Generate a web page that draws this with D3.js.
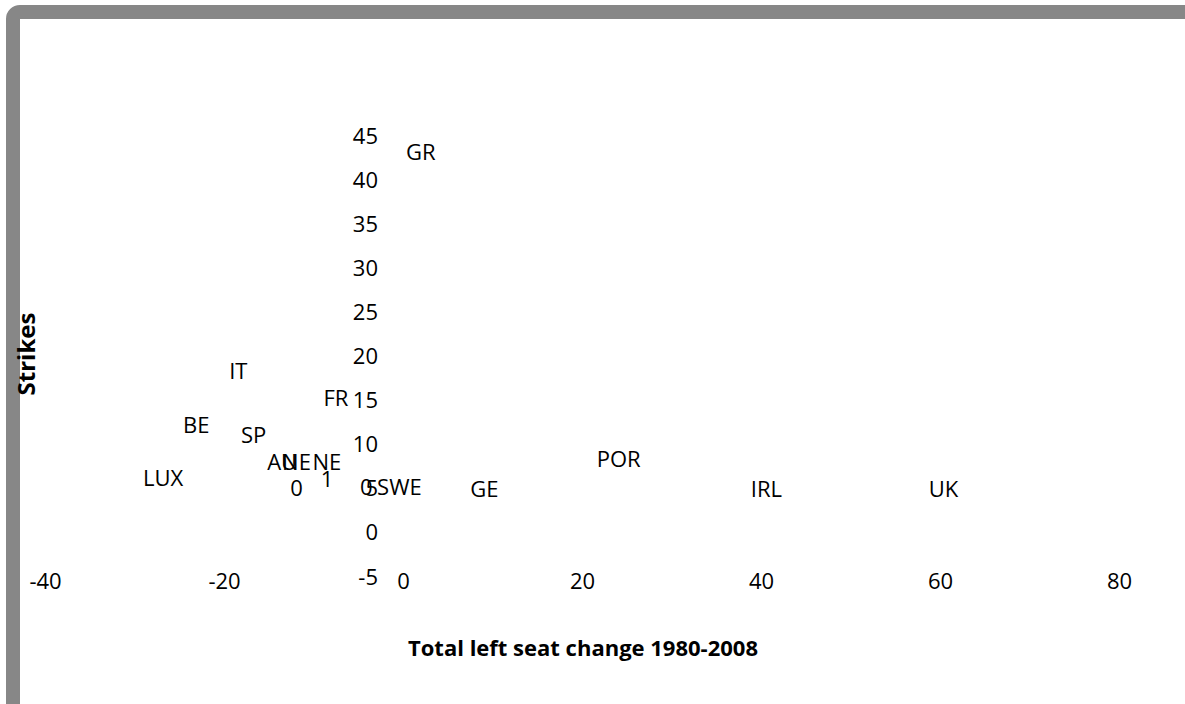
<!DOCTYPE html>
<meta charset="utf-8">
<head>
<style>
body { margin: 0; background: #fff; }
svg { display: block; font-family: "Open Sans", sans-serif; }
.tick text { font-family: "Open Sans", sans-serif; font-size: 22px; fill: #000; }
.point-label { font-size: 22px; fill: #000; text-anchor: middle; }
.axis-title { font-weight: bold; fill: #000; text-anchor: middle; }
</style>
<script src="https://d3js.org/d3.v7.min.js"></script>
</head>
<body>
<svg width="1185" height="704"></svg>
<script>

// country labels as shown on the chart (some are just numbers)
var labels = ["GR", "IT", "FR", "BE", "SP", "LUX", "AU", "NE", "NE", "0", "1", "0", "SWE", "GE", "POR", "IRL", "UK"];
// total left seat change 1980-2008
var seatChange = [2.0, -18.4, -7.5, -23.1, -16.7, -26.8, -13.5, -11.9, -8.5, -11.9, -8.5, -4.1, -0.4, 9.1, 24.1, 40.6, 60.4];
// strikes
var strikes = [43.1, 18.3, 15.3, 12.2, 11.1, 6.2, 8.0, 8.0, 8.0, 5.1, 6.1, 5.2, 5.2, 5.0, 8.3, 4.9, 4.9];

var xTicks = [-40, -20, 0, 20, 40, 60, 80];
var yTicks = [-5, 0, 5, 10, 15, 20, 25, 30, 35, 40, 45];

var svg = d3.select("svg"),
    width = +svg.attr("width"),
    height = +svg.attr("height");

var points = labels.map(function(d, i) {
  return { label: d, x: seatChange[i], y: strikes[i] };
});

// chart border, only the top and left edges fall inside the picture
svg.append("rect")
    .attr("x", 13)
    .attr("y", 12)
    .attr("width", width + 100)
    .attr("height", height + 100)
    .attr("rx", 7)
    .attr("fill", "none")
    .attr("stroke", "#878787")
    .attr("stroke-width", 14);

var x = d3.scaleLinear()
    .domain([-40, 80])
    .range([45, 1119]);

var y = d3.scaleLinear()
    .domain([-5, 45])
    .range([577, 136]);

function plain(d) { return String(d); }   // keep a plain hyphen for negatives

// y axis crosses at x = 0, labels to its left
var yAxis = svg.append("g")
    .attr("transform", "translate(" + x(0) + ",0)")
    .call(d3.axisLeft(y).tickValues(yTicks).tickSize(0).tickPadding(25).tickFormat(plain));
yAxis.attr("font-family", null).attr("font-size", null);
yAxis.select(".domain").remove();

// x axis along the bottom of the plot
var xAxis = svg.append("g")
    .attr("transform", "translate(0," + y(-5) + ")")
    .call(d3.axisBottom(x).tickValues(xTicks).tickSize(0).tickPadding(-4).tickFormat(plain));
xAxis.attr("font-family", null).attr("font-size", null);
xAxis.select(".domain").remove();

// data labels, no markers
svg.append("g")
  .selectAll("text")
  .data(points)
  .enter().append("text")
    .attr("class", "point-label")
    .attr("x", function(d) { return x(d.x); })
    .attr("y", function(d) { return y(d.y); })
    .attr("dy", "0.35em")
    .text(function(d) { return d.label; });

svg.append("text")
    .attr("class", "axis-title")
    .attr("x", 583)
    .attr("y", 656)
    .style("font-size", "22px")
    .text("Total left seat change 1980-2008");

svg.append("text")
    .attr("class", "axis-title")
    .attr("transform", "translate(35,354) rotate(-90)")
    .style("font-size", "24px")
    .text("Strikes");

</script>
</body>
